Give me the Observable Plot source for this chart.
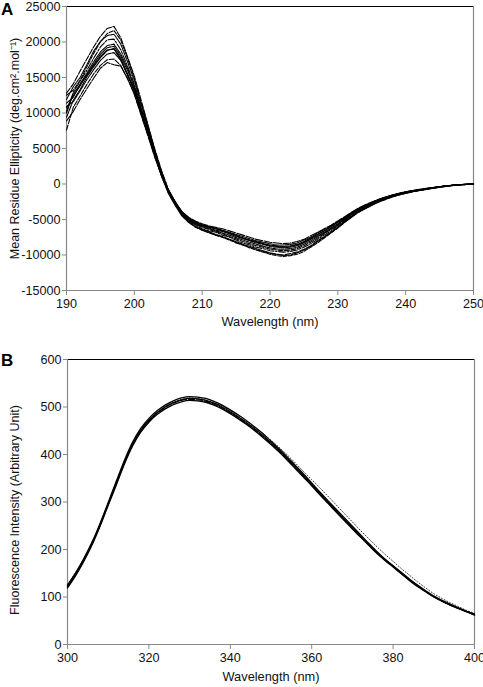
<!DOCTYPE html>
<html>
<head>
<meta charset="utf-8">
<script src="https://cdn.jsdelivr.net/npm/d3@7"></script>
<script src="https://cdn.jsdelivr.net/npm/@observablehq/plot@0.6"></script>
<style>
  body { margin: 0; background: #fff; }
  #wrap { position: relative; width: 483px; height: 687px; background: #fff; font-family: "Liberation Sans", Arial, sans-serif; }
  .panel { position: absolute; left: 0; }
  .tag { position: absolute; font-weight: bold; font-size: 17px; line-height: 17px; color: #000; font-family: "Liberation Sans", Arial, sans-serif; }
</style>
</head>
<body>
<div id="wrap">
  <div id="pa" class="panel" style="top:0px"></div>
  <div id="pb" class="panel" style="top:340px"></div>
  <div class="tag" style="left:1px; top:1px">A</div>
  <div class="tag" style="left:1px; top:352px">B</div>
</div>
<script>
// ---------- Panel A: CD spectra ----------
const cdWavelength = [190,191,192,193,194,195,196,197,198,199,200,201,202,203,204,205,206,207,208,209,210,211,212,213,214,215,216,217,218,219,220,221,222,223,224,225,226,227,228,229,230,231,232,233,234,235,236,237,238,239,240,241,242,243,244,245,246,247,248,249,250];
const cdXTicks = [190,200,210,220,230,240,250];
const cdYTicks = [-15000,-10000,-5000,0,5000,10000,15000,20000,25000];
const cdXTitle = "Wavelength (nm)";
const cdYTitle = "Mean Residue Ellipticity (deg.cm\u00B2.mol\u207B\u00B9)";

const cd0 = [10700,12400,13800,15400,16900,18300,19200,19400,18000,16000,13800,10600,7600,4400,1600,-900,-2600,-4100,-5000,-5600,-6000,-6300,-6600,-6900,-7200,-7550,-7900,-8200,-8500,-8750,-9000,-9150,-9200,-9100,-8900,-8500,-8000,-7400,-6900,-6300,-5700,-5000,-4300,-3700,-3200,-2750,-2350,-2000,-1700,-1450,-1200,-1000,-850,-700,-550,-400,-280,-180,-100,-50,0];
const cd1 = [12800,14100,15900,17600,19300,20800,21900,22200,20600,17900,15200,11800,8400,5000,1900,-700,-2500,-4200,-5300,-6000,-6500,-6800,-7200,-7500,-7800,-8300,-8600,-8900,-9300,-9500,-9800,-9900,-10000,-9800,-9600,-9200,-8700,-8000,-7400,-6800,-6100,-5300,-4600,-3900,-3400,-2900,-2500,-2100,-1800,-1500,-1300,-1100,-900,-750,-600,-450,-330,-220,-120,-60,-20];
const cd2 = [11900,13700,15000,16800,18700,20100,20900,21100,19700,17200,14600,11300,8100,4700,1800,-800,-2400,-3900,-4700,-5400,-5800,-6000,-6300,-6600,-6900,-7200,-7600,-7900,-8200,-8400,-8700,-8800,-8900,-8800,-8600,-8200,-7700,-7100,-6600,-6000,-5400,-4800,-4100,-3500,-3000,-2600,-2200,-1900,-1600,-1350,-1150,-950,-800,-650,-500,-380,-260,-170,-90,-40,10];
const cd3 = [10200,12900,14500,16000,17700,19300,20300,20400,18900,16600,14100,11000,7900,4500,1500,-1100,-2800,-4300,-5200,-5800,-6300,-6600,-6800,-7200,-7500,-7900,-8300,-8600,-8900,-9100,-9400,-9500,-9600,-9500,-9300,-8900,-8400,-7800,-7200,-6600,-5900,-5200,-4500,-3900,-3300,-2850,-2450,-2100,-1750,-1500,-1250,-1050,-880,-720,-570,-420,-300,-190,-110,-50,-10];
const cd4 = [11400,12200,14100,15600,17200,18600,19500,19700,18300,16300,13600,10400,7300,4200,1300,-1000,-2500,-3900,-4800,-5300,-5700,-6000,-6200,-6500,-6800,-7100,-7400,-7700,-8000,-8200,-8400,-8600,-8600,-8500,-8300,-7900,-7500,-6900,-6400,-5900,-5300,-4700,-4000,-3500,-3000,-2600,-2200,-1850,-1600,-1350,-1100,-950,-800,-650,-520,-380,-270,-170,-90,-40,20];
const cd5 = [9400,11800,13300,15100,16500,17800,18800,19100,17700,15500,13200,10100,7000,4000,1200,-1300,-3000,-4500,-5400,-6000,-6400,-6700,-7100,-7400,-7800,-8100,-8500,-8800,-9100,-9400,-9700,-9900,-10100,-10000,-9700,-9300,-8800,-8100,-7500,-6800,-6100,-5400,-4700,-4000,-3500,-3000,-2550,-2150,-1800,-1550,-1300,-1100,-930,-760,-600,-440,-310,-200,-110,-60,-20];
const cd6 = [10900,11600,13100,14700,16100,17400,18300,18500,17400,15300,13000,10000,7100,4100,1400,-900,-2700,-4100,-4900,-5500,-5900,-6200,-6500,-6700,-7000,-7400,-7700,-8000,-8300,-8500,-8800,-8900,-9000,-8900,-8700,-8300,-7800,-7300,-6800,-6200,-5600,-4900,-4200,-3600,-3100,-2700,-2300,-1950,-1650,-1400,-1150,-980,-830,-680,-540,-390,-270,-170,-90,-40,0];
const cd7 = [7600,10800,12400,14000,15500,16700,17500,17600,16700,14800,12700,9800,6900,3900,1100,-1200,-2800,-4200,-5100,-5700,-6100,-6400,-6700,-7000,-7400,-7700,-8100,-8400,-8700,-8900,-9200,-9300,-9400,-9300,-9100,-8700,-8200,-7600,-7000,-6400,-5800,-5100,-4400,-3800,-3300,-2800,-2400,-2050,-1700,-1450,-1200,-1000,-860,-700,-560,-410,-290,-190,-100,-50,-10];
const cd8 = [8900,10200,11900,13400,14900,16300,17100,16800,16600,14900,12600,9700,6800,3800,1200,-1100,-2600,-3900,-4700,-5200,-5600,-5900,-6100,-6300,-6600,-6900,-7200,-7500,-7800,-8000,-8200,-8300,-8400,-8300,-8100,-7800,-7300,-6800,-6300,-5800,-5200,-4600,-4000,-3400,-2950,-2550,-2150,-1850,-1550,-1300,-1100,-900,-760,-620,-490,-360,-250,-160,-80,-30,20];
const cd9 = [12500,13200,14600,16500,18400,20000,21200,21600,20300,17700,14900,11500,8100,4800,1700,-800,-2700,-4300,-5400,-6100,-6500,-6900,-7200,-7500,-7900,-8200,-8600,-9000,-9300,-9600,-9900,-10100,-10200,-10100,-9900,-9500,-8900,-8300,-7600,-6900,-6200,-5400,-4700,-4000,-3500,-3000,-2550,-2200,-1850,-1550,-1300,-1100,-920,-760,-610,-450,-320,-210,-120,-60,-20];
const cd10 = [10000,12700,14000,15300,16700,18000,18900,19000,17500,15400,13400,10300,7300,4300,1500,-900,-2500,-4000,-4800,-5400,-5800,-6100,-6300,-6600,-6900,-7300,-7600,-7900,-8100,-8400,-8600,-8700,-8800,-8700,-8500,-8100,-7600,-7100,-6600,-6000,-5400,-4800,-4100,-3600,-3100,-2650,-2250,-1900,-1600,-1380,-1150,-970,-820,-680,-540,-390,-270,-170,-90,-40,10];
const cdAll = [cd0,cd1,cd2,cd3,cd4,cd5,cd6,cd7,cd8,cd9,cd10];
const cdDash = ["5,1","6,1.5","3,1","7,1.5,2,1.5","4,1","6,1","3,1","5,1.5","8,1.5","4,1.5","6,1"];

// ---------- Panel B: fluorescence spectra ----------
const flWavelength = [300,302,304,306,308,310,312,314,316,318,320,322,324,326,328,330,332,334,336,338,340,342,344,346,348,350,352,354,356,358,360,362,364,366,368,370,372,374,376,378,380,382,384,386,388,390,392,394,396,398,400];
const flXTicks = [300,320,340,360,380,400];
const flYTicks = [0,100,200,300,400,500,600];
const flXTitle = "Wavelength (nm)";
const flYTitle = "Fluorescence Intensity (Arbitrary Unit)";
const fl1 = [122,148,178,212,252,296,340,384,422,451,472,488,500,509,515,518,517,514,508,500,490,479,467,454,440,425,409,392,374,356,337,318,300,282,264,246,228,211,194,179,165,151,137,124,112,101,92,84,77,70,64];
const fl2 = [125,151,181,215,255,299,344,388,426,455,476,492,504,513,519,522,521,518,512,504,494,483,471,458,444,428,412,395,377,359,340,321,303,285,267,249,231,213,196,180,166,152,138,125,113,102,93,85,77,70,63];
const fl3 = [119,145,175,209,249,293,336,380,418,447,468,484,496,505,511,514,513,510,504,496,486,475,463,450,436,421,405,388,370,352,334,315,297,279,261,243,226,209,192,177,163,149,135,122,111,100,91,83,76,69,62];
const fl4 = [127,152,180,213,253,297,341,385,423,452,473,489,501,510,516,519,518,515,509,502,492,481,469,457,444,430,415,399,382,364,347,330,312,294,276,258,240,223,206,190,175,160,146,132,119,107,97,88,80,72,66];
const fl5 = [121,147,177,211,251,295,339,383,421,450,471,487,499,508,514,516,515,512,506,498,488,477,465,452,438,423,407,390,372,354,335,317,299,281,263,245,227,210,193,178,164,150,136,123,111,100,91,83,76,69,63];
const flAll = [fl1,fl2,fl3,fl5,fl4];
const flDash = [null,null,null,"6,2","1,2"];
const flWidth = [1.3,1.3,1.3,1.1,0.8];

const fmt = d => String(d);
const baseStyle = {fontFamily: "'Liberation Sans', Arial, sans-serif", fontSize: "12.6px", color: "#111", background: "#fff", overflow: "visible"};

const cdMarks = cdAll.map((s, i) => Plot.line(cdWavelength.map((w, j) => ({w, v: s[j]})), {x: "w", y: "v", stroke: "#000", strokeWidth: 1.1, strokeDasharray: cdDash[i]}));

const plotA = Plot.plot({
  width: 483, height: 335,
  marginLeft: 66, marginRight: 10, marginTop: 6, marginBottom: 45,
  style: baseStyle,
  x: {domain: [190, 250]},
  y: {domain: [-15000, 25000]},
  marks: [
    Plot.ruleY([25000], {stroke: "#000", strokeWidth: 1}),
    Plot.ruleX([250], {stroke: "#888", strokeWidth: 1.2}),
    Plot.ruleX([190], {stroke: "#888", strokeWidth: 1.2}),
    Plot.ruleY([-15000], {stroke: "#888", strokeWidth: 1.2}),
    Plot.axisX({ticks: cdXTicks, tickFormat: fmt, tickSize: 5, tickPadding: 4, stroke: "#888", label: null}),
    Plot.axisY({ticks: cdYTicks, tickFormat: fmt, tickSize: 4, tickPadding: 2, stroke: "#888", label: null}),
    Plot.text([cdXTitle], {text: d => d, frameAnchor: "bottom", dy: 35, fontSize: 12.8, fill: "#111"}),
    Plot.text([cdYTitle], {text: d => d, frameAnchor: "left", textAnchor: "middle", dx: -52, rotate: -90, fontSize: 12.5, fill: "#111"}),
    ...cdMarks
  ]
});
document.getElementById("pa").appendChild(plotA);

const flMarks = flAll.map((s, i) => Plot.line(flWavelength.map((w, j) => ({w, v: s[j]})), {x: "w", y: "v", stroke: "#000", strokeWidth: flWidth[i], strokeDasharray: flDash[i], curve: "monotone-x"}));

const plotB = Plot.plot({
  width: 483, height: 347,
  marginLeft: 67, marginRight: 9, marginTop: 19, marginBottom: 43,
  style: baseStyle,
  x: {domain: [300, 400]},
  y: {domain: [0, 600]},
  marks: [
    Plot.ruleY([600], {stroke: "#000", strokeWidth: 1}),
    Plot.ruleX([400], {stroke: "#888", strokeWidth: 1.2}),
    Plot.ruleX([300], {stroke: "#888", strokeWidth: 1.2}),
    Plot.ruleY([0], {stroke: "#888", strokeWidth: 1.2}),
    Plot.axisX({ticks: flXTicks, tickFormat: fmt, tickSize: 5, tickPadding: 4, stroke: "#888", label: null}),
    Plot.axisY({ticks: flYTicks, tickFormat: fmt, tickSize: 4, tickPadding: 2, stroke: "#888", label: null}),
    Plot.text([flXTitle], {text: d => d, frameAnchor: "bottom", dy: 36, fontSize: 12.8, fill: "#111"}),
    Plot.text([flYTitle], {text: d => d, frameAnchor: "left", textAnchor: "middle", dx: -53, dy: 8, rotate: -90, fontSize: 12.5, fill: "#111"}),
    ...flMarks
  ]
});
document.getElementById("pb").appendChild(plotB);
</script>
</body>
</html>
